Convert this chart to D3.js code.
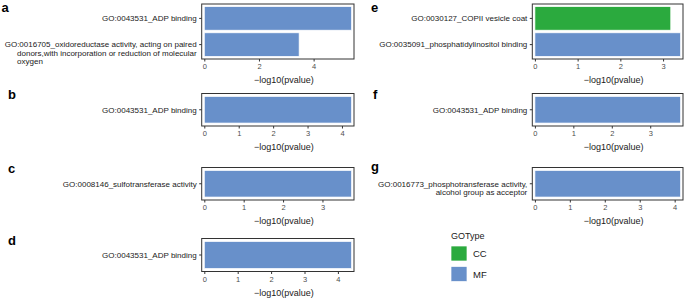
<!DOCTYPE html>
<html><head><meta charset="utf-8">
<script src="https://cdn.jsdelivr.net/npm/d3@7"></script>
<style>
body{margin:0;background:#fff}
svg{display:block;font-family:"Liberation Sans",Arial,Helvetica,sans-serif}
</style>
</head><body>
<svg id="chart" width="685" height="298"></svg>
<script>
// ---- data ----
const goTypes = ["CC", "MF"];
const typeColors = ["#2BAA3E", "#6890CA"];

const termsA = ["GO:0043531_ADP binding",
  "GO:0016705_oxidoreductase activity, acting on paired\ndonors,with incorporation or reduction of molecular\noxygen"];
const valuesA = [5.39, 3.47];
const typesA = ["MF", "MF"];
const ticksA = [0, 2, 4];

const termsB = ["GO:0043531_ADP binding"];
const valuesB = [4.28];
const typesB = ["MF"];
const ticksB = [0, 1, 2, 3, 4];

const termsC = ["GO:0008146_sulfotransferase activity"];
const valuesC = [3.74];
const typesC = ["MF"];
const ticksC = [0, 1, 2, 3];

const termsD = ["GO:0043531_ADP binding"];
const valuesD = [4.41];
const typesD = ["MF"];
const ticksD = [0, 1, 2, 3, 4];

const termsE = ["GO:0030127_COPII vesicle coat", "GO:0035091_phosphatidylinositol binding"];
const valuesE = [3.18, 3.41];
const typesE = ["CC", "MF"];
const ticksE = [0, 1, 2, 3];

const termsF = ["GO:0043531_ADP binding"];
const valuesF = [3.79];
const typesF = ["MF"];
const ticksF = [0, 1, 2, 3];

const termsG = ["GO:0016773_phosphotransferase activity,\nalcohol group as acceptor"];
const valuesG = [4.17];
const typesG = ["MF"];
const ticksG = [0, 1, 2, 3, 4];

const axisTitle = "\u2212log10(pvalue)";
const legendTitle = "GOType";

// ---- layout (code, not data) ----
const layout = [
  {letter: "a", terms: termsA, values: valuesA, types: typesA, ticks: ticksA, lx: 1.5, ly: 12,  box: [201.7, 4, 354, 59]},
  {letter: "b", terms: termsB, values: valuesB, types: typesB, ticks: ticksB, lx: 8,   ly: 99,  box: [201.7, 93.5, 354, 126]},
  {letter: "c", terms: termsC, values: valuesC, types: typesC, ticks: ticksC, lx: 8,   ly: 173, box: [201.7, 167.5, 354, 200]},
  {letter: "d", terms: termsD, values: valuesD, types: typesD, ticks: ticksD, lx: 8,   ly: 245, box: [201.7, 238.5, 354, 271.5]},
  {letter: "e", terms: termsE, values: valuesE, types: typesE, ticks: ticksE, lx: 371, ly: 12,  box: [532.3, 4, 683, 59]},
  {letter: "f", terms: termsF, values: valuesF, types: typesF, ticks: ticksF, lx: 373, ly: 99,  box: [532.3, 93.5, 683, 126]},
  {letter: "g", terms: termsG, values: valuesG, types: typesG, ticks: ticksG, lx: 371, ly: 171, box: [532.3, 167.5, 683, 200]}
];

const svg = d3.select("#chart");
const color = d3.scaleOrdinal().domain(goTypes).range(typeColors);

layout.forEach(p => {
  const [x0, y0, x1, y1] = p.box;
  const g = svg.append("g");

  const x = d3.scaleLinear().domain([0, d3.max(p.values)]).range([x0 + 2.6, x1 - 2.4]);
  const y = d3.scaleBand().domain(p.terms).range([y0, y1]).paddingInner(0.1).paddingOuter(0.1);

  g.selectAll("rect.bar").data(p.terms).join("rect")
    .attr("class", "bar")
    .attr("x", x(0))
    .attr("y", d => y(d))
    .attr("width", (d, i) => x(p.values[i]) - x(0))
    .attr("height", y.bandwidth())
    .attr("fill", (d, i) => color(p.types[i]))
    .attr("stroke", "#ffffff")
    .attr("stroke-width", 0.7);

  g.append("rect")
    .attr("x", x0).attr("y", y0)
    .attr("width", x1 - x0).attr("height", y1 - y0)
    .attr("fill", "none").attr("stroke", "#333").attr("stroke-width", 1);

  // x axis
  const ax = g.append("g")
    .attr("transform", `translate(0,${y1})`)
    .call(d3.axisBottom(x).tickValues(p.ticks).tickSize(2.5).tickPadding(2.5).tickFormat(d3.format("d")))
    .attr("font-size", null).attr("font-family", null);
  ax.select(".domain").remove();
  ax.selectAll("line").attr("stroke", "#333");
  ax.selectAll("text").attr("fill", "#4d4d4d").style("font-size", "7.5px");

  // x axis title
  g.append("text")
    .attr("x", (x0 + x1) / 2 + 6)
    .attr("y", y1 + 24)
    .attr("text-anchor", "middle")
    .style("font-size", "9px")
    .attr("fill", "#1a1a1a")
    .text(axisTitle);

  // y axis (ticks + multi-line labels)
  p.terms.forEach(t => {
    const cy = y(t) + y.bandwidth() / 2;
    g.append("line")
      .attr("x1", x0 - 2.5).attr("x2", x0)
      .attr("y1", cy).attr("y2", cy)
      .attr("stroke", "#333");
    const lines = t.split("\n");
    let prevStart = null, prevWidth = null;
    lines.forEach((ln, i) => {
      const tx = g.append("text")
        .attr("x", x0 - 5)
        .attr("y", cy + i * 8.3)
        .attr("dy", "0.35em")
        .attr("text-anchor", "end")
        .style("font-size", "8px")
        .attr("fill", "#1a1a1a")
        .text(ln);
      const w = tx.node().getComputedTextLength();
      if (prevWidth !== null && w < prevWidth / 2) {
        tx.attr("text-anchor", "start").attr("x", prevStart);
      } else {
        prevStart = x0 - 5 - w;
        prevWidth = w;
      }
    });
  });

  // panel letter
  svg.append("text")
    .attr("x", p.lx).attr("y", p.ly)
    .style("font-size", "13px").style("font-weight", "bold")
    .attr("fill", "#000")
    .text(p.letter);
});

// legend
const lg = svg.append("g");
lg.append("text").attr("x", 451).attr("y", 239)
  .style("font-size", "9px").attr("fill", "#1a1a1a").text(legendTitle);
goTypes.forEach((t, i) => {
  lg.append("rect")
    .attr("x", 451).attr("y", 246 + i * 20.5)
    .attr("width", 16).attr("height", 15)
    .attr("fill", color(t)).attr("stroke", "#fff").attr("stroke-width", 0.7);
  lg.append("text")
    .attr("x", 473).attr("y", 257.3 + i * 20.5)
    .style("font-size", "9.5px").attr("fill", "#1a1a1a").text(t);
});
</script>
</body></html>
